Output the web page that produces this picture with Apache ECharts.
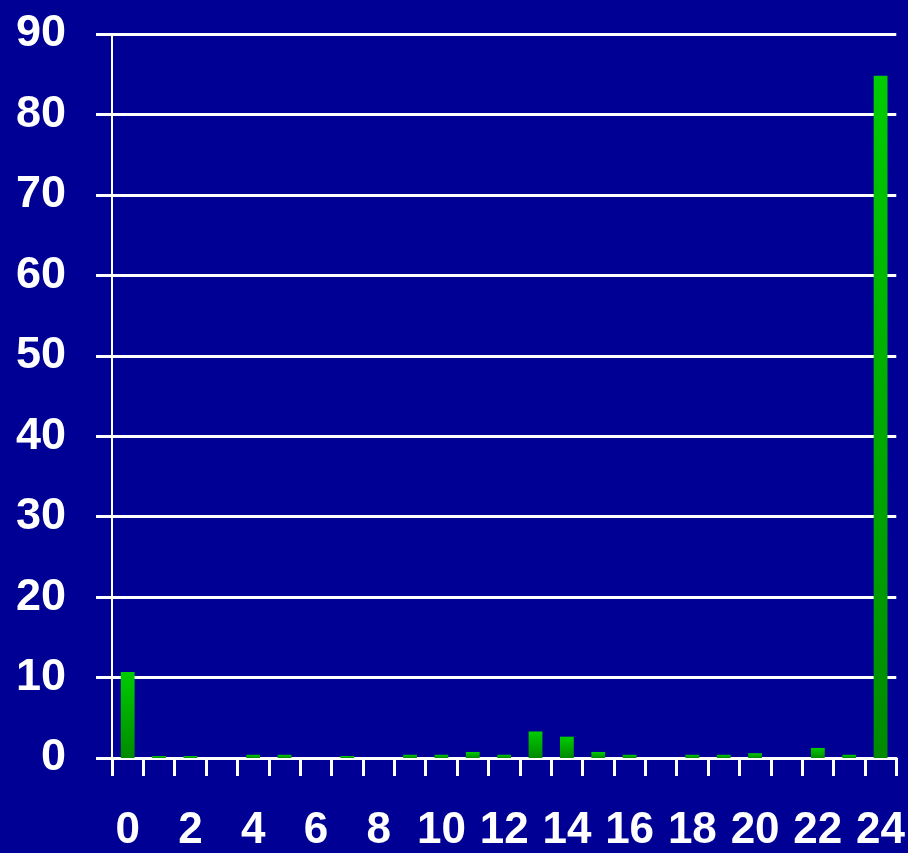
<!DOCTYPE html>
<html><head><meta charset="utf-8">
<script src="https://cdn.jsdelivr.net/npm/echarts@6/dist/echarts.min.js"></script>
<style>html,body{margin:0;padding:0;background:#000094;}#c{width:908px;height:853px;}</style>
</head><body><div id="c"></div>
<script>
const categories = ['0','1','2','3','4','5','6','7','8','9','10','11','12','13','14','15','16','17','18','19','20','21','22','23','24'];
const values = [10.7,0.25,0.25,0,0.4,0.4,0,0.25,0,0.4,0.4,0.75,0.4,3.3,2.65,0.75,0.4,0,0.4,0.4,0.6,0,1.25,0.4,84.8];
const yMin = 0, yMax = 90, yStep = 10;

const chart = echarts.init(document.getElementById('c'), null, {renderer:'canvas'});
chart.setOption({
  backgroundColor: '#000094',
  animation: false,
  grid: {left: 112, right: 9, top: 34, bottom: 95, containLabel: false},
  xAxis: {
    type: 'category', data: categories, boundaryGap: true,
    axisLine: {lineStyle: {color: '#ffffff', width: 3}},
    axisTick: {show: true, interval: 0, length: 18, lineStyle: {color: '#ffffff', width: 3}},
    axisLabel: {interval: 1, color: '#ffffff', fontFamily: 'Liberation Sans', fontWeight: 'bold', fontSize: 44, margin: 51},
    splitLine: {show: false}
  },
  yAxis: {
    type: 'value', min: yMin, max: yMax, interval: yStep,
    axisLine: {show: true, lineStyle: {color: '#ffffff', width: 2}},
    axisTick: {show: true, length: 16, lineStyle: {color: '#ffffff', width: 3}},
    axisLabel: {color: '#ffffff', fontFamily: 'Liberation Sans', fontWeight: 'bold', fontSize: 45, margin: 46},
    splitLine: {show: true, lineStyle: {color: '#ffffff', width: 3}}
  },
  series: [{
    type: 'bar', data: values, barWidth: '44%',
    itemStyle: {
      color: new echarts.graphic.LinearGradient(0,0,0,1,[{offset:0,color:'#00cc00'},{offset:1,color:'#008a00'}]),
      borderWidth: 0
    }
  }]
});
</script></body></html>
